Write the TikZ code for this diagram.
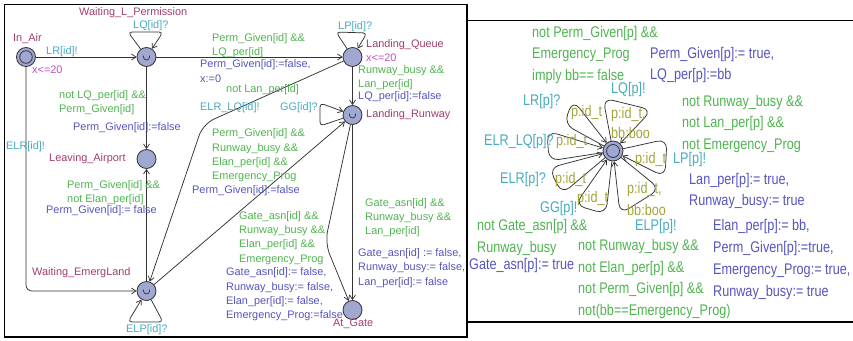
\documentclass[tikz,border=0pt]{standalone}
\usepackage{fontspec}
\setmainfont{Liberation Sans}
\newfontfamily\narrowsans[FakeStretch=0.82]{Liberation Sans}
\usetikzlibrary{arrows.meta}

\definecolor{namec}{RGB}{160,62,110}
\definecolor{invc}{RGB}{190,80,190}
\definecolor{syncc}{RGB}{70,172,192}
\definecolor{guardc}{RGB}{80,180,80}
\definecolor{updc}{RGB}{85,85,190}
\definecolor{selc}{RGB}{165,165,60}
\definecolor{locfill}{RGB}{160,168,210}

\tikzset{
  lbl/.style={inner sep=0pt, anchor=west, align=left, font=\fontsize{10.9}{14.3}\selectfont},
  rlbl/.style={inner sep=0pt, anchor=west, align=left, font=\narrowsans\fontsize{15.4}{21.7}\selectfont},
  ntxt/.style={text=namec},
  itxt/.style={text=invc},
  stxt/.style={text=syncc},
  gtxt/.style={text=guardc},
  utxt/.style={text=updc},
  seltxt/.style={text=selc},
  loc/.style={circle, draw=black!80, fill=locfill, minimum size=19pt, inner sep=0pt, line width=0.8pt},
  initloc/.style={loc, path picture={\draw[line width=0.8pt, black!80] (path picture bounding box.center) circle (6.3pt);}},
  urgloc/.style={loc, path picture={\draw[line width=0.7pt, black!80]
      ([xshift=-3pt,yshift=1.5pt]path picture bounding box.center) -- ++(0,-1.5pt)
      arc[start angle=180, end angle=360, radius=3pt] -- ++(0,1.5pt);}},
  trans/.style={draw=black!80, line width=0.75pt, -{Straight Barb[length=4.5pt,width=6pt]}},
  petal/.style={trans, rounded corners=10pt},
  frame/.style={draw=black, line width=1.1pt},
}

\begin{document}
\begin{tikzpicture}[x=1pt, y=-1pt]
\useasboundingbox (0,0) rectangle (853,340);
\fill[white] (0,0) rectangle (853,340);

% ---------------- panel frames
\draw[frame] (4.5,4.5) rectangle (467,337);
\draw[frame] (853,20.5) -- (467,20.5) -- (467,322) -- (853,322);

% ---------------- aircraft template: locations
\node[initloc] (inair) at (26,57) {};
\node[urgloc]  (wlp)   at (146.5,57) {};
\node[loc]     (lq)    at (352.5,57) {};
\node[urgloc]  (lr)    at (352.5,115) {};
\node[loc]     (la)    at (146.5,159) {};
\node[urgloc]  (wel)   at (146.5,291) {};
\node[loc]     (ag)    at (352.5,310) {};

\node[lbl,ntxt] (nInAir) at (13,39) {In\_Air};
\node[lbl,itxt] (iInAir) at (32,70) {x<=20};
\node[lbl,ntxt] (nWLP) at (79,13) {Waiting\_L\_Permission};
\node[lbl,ntxt] (nLQ) at (366,45) {Landing\_Queue};
\node[lbl,itxt] (iLQ) at (366,58) {x<=20};
\node[lbl,ntxt] (nLR) at (366,115) {Landing\_Runway};
\node[lbl,ntxt] (nLA) at (49,159) {Leaving\_Airport};
\node[lbl,ntxt] (nWEL) at (32,273) {Waiting\_EmergLand};
\node[lbl,ntxt] (nAG) at (333,324) {At\_Gate};

% ---------------- aircraft template: transitions
\coordinate (n1) at (203,124);
\coordinate (n2) at (325,243);

\draw[trans] (inair) -- (wlp);
\draw[trans, rounded corners=6pt] (inair) |- (wel);
\draw[trans] (wlp) -- (lq);
\draw[trans] (wlp) -- (la);
\draw[trans] (wel) -- (la);
\draw[trans] (lq) -- (lr);
\draw[trans, rounded corners=12pt] (lq) -- (n1) -- (wel);
\draw[trans] (wel) -- (lr);
\draw[trans] (lr) -- (ag);
\draw[trans, rounded corners=12pt] (lr) -- (n2) -- (ag);

% self loops
\draw[trans, rounded corners=4pt] (wlp) -- (128,32) -- (163,32) -- (wlp);
\draw[trans, rounded corners=4pt] (lq) -- (336,32) -- (367,33) -- (lq);
\draw[trans, rounded corners=4pt] (lr) -- (320,126) -- (320,103) -- (lr);
\draw[trans, rounded corners=4pt] (wel) -- (163,322) -- (128,322) -- (wel);

% transition labels
\node[lbl,stxt] (sLR) at (46,52) {LR[id]!};
\node[lbl,stxt] (sLQ) at (133,26) {LQ[id]?};
\node[lbl,gtxt] (gWLQ) at (212,46) {Perm\_Given[id] \&\&\\LQ\_per[id]};
\node[lbl,utxt] (uWLQ) at (200,71) {Perm\_Given[id]:=false,\\x:=0};
\node[lbl,gtxt] (gLQE) at (226,90) {not Lan\_per[id]};
\node[lbl,stxt] (sLQE) at (200,108) {ELR\_LQ[id]!};
\node[lbl,stxt] (sLP) at (338,27) {LP[id]?};
\node[lbl,gtxt] (gLQR) at (358,78) {Runway\_busy \&\&\\Lan\_per[id]};
\node[lbl,utxt] (uLQR) at (358,97) {LQ\_per[id]:=false};
\node[lbl,stxt] (sGG) at (280,108) {GG[id]?};
\node[lbl,gtxt] (gWLA) at (59,103) {not LQ\_per[id] \&\&\\Perm\_Given[id]};
\node[lbl,utxt] (uWLA) at (73,128) {Perm\_Given[id]:=false};
\node[lbl,stxt] (sELR) at (6,147) {ELR[id]!};
\node[lbl,gtxt] (gELA) at (67,192.5) {Perm\_Given[id] \&\&\\not Elan\_per[id]};
\node[lbl,utxt] (uELA) at (46,211) {Perm\_Given[id]:= false};
\node[lbl,gtxt] (gELR) at (212,155.5) {Perm\_Given[id] \&\&\\Runway\_busy \&\&\\Elan\_per[id] \&\&\\Emergency\_Prog};
\node[lbl,utxt] (uELR) at (192,191) {Perm\_Given[id]:=false};
\node[lbl,gtxt] (gRG1) at (365,217.5) {Gate\_asn[id] \&\&\\Runway\_busy \&\&\\Lan\_per[id]};
\node[lbl,utxt] (uRG1) at (358,268) {Gate\_asn[id] := false,\\Runway\_busy:= false,\\Lan\_per[id]:= false};
\node[lbl,gtxt] (gRG2) at (239,238) {Gate\_asn[id] \&\&\\Runway\_busy \&\&\\Elan\_per[id] \&\&\\Emergency\_Prog};
\node[lbl,utxt] (uRG2) at (226,294.5) {Gate\_asn[id]:= false,\\Runway\_busy:= false,\\Elan\_per[id]:= false,\\Emergency\_Prog:=false};
\node[lbl,stxt] (sELP) at (126,330) {ELP[id]?};

% ---------------- controller template
\node[loc, minimum size=20pt, path picture={\draw[line width=0.8pt, black!80] (path picture bounding box.center) circle (6.5pt);}] (ctl) at (613,151) {};

\draw[petal] (ctl) -- (564,124) -- (573,100) -- (ctl);
\draw[petal] (ctl) -- (603,98) -- (652,110) -- (ctl);
\draw[petal] (ctl) -- (667,139) -- (665,177) -- (ctl);
\draw[petal] (ctl) -- (660,189) -- (620,214) -- (ctl);
\draw[petal] (ctl) -- (606,214) -- (575,205) -- (ctl);
\draw[petal] (ctl) -- (562,194) -- (549,168) -- (ctl);
\draw[petal] (ctl) -- (549,161) -- (547,131) -- (ctl);

\node[rlbl,gtxt] (gcLQ) at (532,55) {not Perm\_Given[p] \&\&\\Emergency\_Prog\\imply bb== false};
\node[rlbl,utxt] (ucLQ) at (650,65) {Perm\_Given[p]:= true,\\LQ\_per[p]:=bb};
\node[rlbl,stxt] (scLQ) at (611,90) {LQ[p]!};
\node[rlbl,seltxt,font=\narrowsans\fontsize{15.4}{20}\selectfont] (xcLQ) at (611,123) {p:id\_t,\\bb:boo};
\node[rlbl,stxt] (scLR) at (523,102) {LR[p]?};
\node[rlbl,seltxt] (xcLR) at (571,113) {p:id\_t};
\node[rlbl,stxt] (scELQ) at (484,142) {ELR\_LQ[p]?};
\node[rlbl,seltxt] (xcELQ) at (556,142) {p:id\_t};
\node[rlbl,seltxt] (xcLP) at (635,160) {p:id\_t};
\node[rlbl,stxt] (scLP) at (673,160) {LP[p]!};
\node[rlbl,gtxt] (gcLP) at (682,124) {not Runway\_busy \&\&\\not Lan\_per[p] \&\&\\not Emergency\_Prog};
\node[rlbl,utxt] (ucLP) at (689,191) {Lan\_per[p]:= true,\\Runway\_busy:= true};
\node[rlbl,stxt] (scELR) at (500,180) {ELR[p]?};
\node[rlbl,seltxt] (xcELR) at (555,180) {p:id\_t};
\node[rlbl,seltxt] (xcGG) at (577,199) {p:id\_t};
\node[rlbl,stxt] (scGG) at (540,209) {GG[p]!};
\node[rlbl,seltxt,font=\narrowsans\fontsize{15.4}{22}\selectfont] (xcELP) at (627,199) {p:id\_t,\\bb:boo};
\node[rlbl,stxt] (scELP) at (635,227) {ELP[p]!};
\node[rlbl,gtxt] (gcGG) at (477,237.5) {not Gate\_asn[p] \&\&\\Runway\_busy};
\node[rlbl,utxt] (ucGG) at (469,266) {Gate\_asn[p]:= true};
\node[rlbl,gtxt] (gcELP) at (578,279) {not Runway\_busy \&\&\\not Elan\_per[p] \&\&\\not Perm\_Given[p] \&\&\\not(bb==Emergency\_Prog)};
\node[rlbl,utxt] (ucELP) at (713,259.5) {Elan\_per[p]:= bb,\\Perm\_Given[p]:=true,\\Emergency\_Prog:= true,\\Runway\_busy:= true};
\end{tikzpicture}
\end{document}
